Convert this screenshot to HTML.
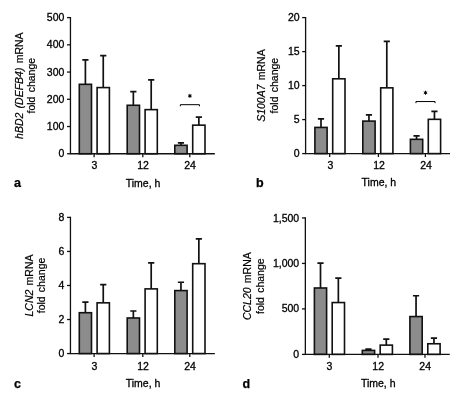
<!DOCTYPE html>
<html><head><meta charset="utf-8"><title>Figure</title>
<style>html,body{margin:0;padding:0;background:#fff}body{width:459px;height:400px;overflow:hidden;font-family:"Liberation Sans", sans-serif}svg text{stroke:#000;stroke-width:0.3px}svg text.L{stroke-width:0.25px}svg text.R{stroke-width:0.2px}</style>
</head><body>
<svg width="459" height="400" viewBox="0 0 459 400" style="display:block;will-change:transform;opacity:0.999" font-family='"Liberation Sans", sans-serif' fill="#000">
<rect width="459" height="400" fill="#fff"/>
<path d="M85.40 84.31V59.81M82.30 59.81H88.50" stroke="#111" stroke-width="1.7" fill="none"/>
<rect x="79.30" y="84.31" width="12.20" height="69.44" fill="#8c8c8c" stroke="#111" stroke-width="1.6"/>
<path d="M103.25 87.58V55.72M100.15 55.72H106.35" stroke="#111" stroke-width="1.7" fill="none"/>
<rect x="97.10" y="87.58" width="12.30" height="66.17" fill="#fff" stroke="#111" stroke-width="1.6"/>
<path d="M133.35 105.28V91.67M130.25 91.67H136.45" stroke="#111" stroke-width="1.7" fill="none"/>
<rect x="127.20" y="105.28" width="12.30" height="48.47" fill="#8c8c8c" stroke="#111" stroke-width="1.6"/>
<path d="M151.20 109.64V79.96M148.10 79.96H154.30" stroke="#111" stroke-width="1.7" fill="none"/>
<rect x="145.10" y="109.64" width="12.20" height="44.11" fill="#fff" stroke="#111" stroke-width="1.6"/>
<path d="M180.95 145.31V142.86M177.85 142.86H184.05" stroke="#111" stroke-width="1.7" fill="none"/>
<rect x="174.80" y="145.31" width="12.30" height="8.44" fill="#8c8c8c" stroke="#111" stroke-width="1.6"/>
<path d="M198.85 125.16V117.13M195.75 117.13H201.95" stroke="#111" stroke-width="1.7" fill="none"/>
<rect x="192.70" y="125.16" width="12.30" height="28.59" fill="#fff" stroke="#111" stroke-width="1.6"/>
<path d="M70.45 17.00V153.75H214.85" stroke="#111" stroke-width="1.3" fill="none"/>
<path d="M67.05 153.75H70.45" stroke="#111" stroke-width="1.3"/>
<text x="64.40" y="157.30" font-size="10.5" text-anchor="end">0</text>
<path d="M67.05 126.52H70.45" stroke="#111" stroke-width="1.3"/>
<text x="64.40" y="130.07" font-size="10.5" text-anchor="end">100</text>
<path d="M67.05 99.29H70.45" stroke="#111" stroke-width="1.3"/>
<text x="64.40" y="102.84" font-size="10.5" text-anchor="end">200</text>
<path d="M67.05 72.06H70.45" stroke="#111" stroke-width="1.3"/>
<text x="64.40" y="75.61" font-size="10.5" text-anchor="end">300</text>
<path d="M67.05 44.83H70.45" stroke="#111" stroke-width="1.3"/>
<text x="64.40" y="48.38" font-size="10.5" text-anchor="end">400</text>
<path d="M67.05 17.60H70.45" stroke="#111" stroke-width="1.3"/>
<text x="64.40" y="21.15" font-size="10.5" text-anchor="end">500</text>
<path d="M94.10 153.75V157.15" stroke="#111" stroke-width="1.3"/>
<text x="94.30" y="169.30" font-size="10.5" text-anchor="middle">3</text>
<path d="M142.80 153.75V157.15" stroke="#111" stroke-width="1.3"/>
<text x="143.00" y="169.30" font-size="10.5" text-anchor="middle">12</text>
<path d="M189.80 153.75V157.15" stroke="#111" stroke-width="1.3"/>
<text x="190.00" y="169.30" font-size="10.5" text-anchor="middle">24</text>
<text x="143.00" y="186.50" font-size="10.5" text-anchor="middle">Time, h</text>
<text transform="translate(22.50 85.67) rotate(-90)" class="R" word-spacing="1.3" font-size="10.5" text-anchor="middle"><tspan font-style="italic">hBD2 (DEFB4)</tspan> mRNA</text>
<text transform="translate(35.20 85.67) rotate(-90)" class="R" word-spacing="1.3" font-size="10.5" text-anchor="middle">fold change</text>
<text class="L" x="13.90" y="187.00" font-size="12.5" font-weight="bold">a</text>
<path d="M180.35 106.28V104.68H199.45V106.28" stroke="#000" stroke-width="1.0" fill="none"/>
<path d="M189.90 93.88L189.90 97.88M191.63 94.88L188.17 96.88M191.63 96.88L188.17 94.88" stroke="#000" stroke-width="1.0" fill="none"/>
<circle cx="189.90" cy="95.88" r="1.05" fill="#000"/>
<path d="M321.00 127.42V118.92M317.90 118.92H324.10" stroke="#111" stroke-width="1.7" fill="none"/>
<rect x="314.90" y="127.42" width="12.20" height="26.18" fill="#8c8c8c" stroke="#111" stroke-width="1.6"/>
<path d="M338.85 78.80V45.82M335.75 45.82H341.95" stroke="#111" stroke-width="1.7" fill="none"/>
<rect x="332.70" y="78.80" width="12.30" height="74.80" fill="#fff" stroke="#111" stroke-width="1.6"/>
<path d="M368.95 121.10V114.84M365.85 114.84H372.05" stroke="#111" stroke-width="1.7" fill="none"/>
<rect x="362.80" y="121.10" width="12.30" height="32.50" fill="#8c8c8c" stroke="#111" stroke-width="1.6"/>
<path d="M386.80 87.84V41.40M383.70 41.40H389.90" stroke="#111" stroke-width="1.7" fill="none"/>
<rect x="380.70" y="87.84" width="12.20" height="65.76" fill="#fff" stroke="#111" stroke-width="1.6"/>
<path d="M416.55 139.32V135.78M413.45 135.78H419.65" stroke="#111" stroke-width="1.7" fill="none"/>
<rect x="410.40" y="139.32" width="12.30" height="14.28" fill="#8c8c8c" stroke="#111" stroke-width="1.6"/>
<path d="M434.45 119.33V111.30M431.35 111.30H437.55" stroke="#111" stroke-width="1.7" fill="none"/>
<rect x="428.30" y="119.33" width="12.30" height="34.27" fill="#fff" stroke="#111" stroke-width="1.6"/>
<path d="M305.60 17.00V153.60H450.00" stroke="#111" stroke-width="1.3" fill="none"/>
<path d="M302.20 153.60H305.60" stroke="#111" stroke-width="1.3"/>
<text x="299.60" y="157.15" font-size="10.5" text-anchor="end">0</text>
<path d="M302.20 119.60H305.60" stroke="#111" stroke-width="1.3"/>
<text x="299.60" y="123.15" font-size="10.5" text-anchor="end">5</text>
<path d="M302.20 85.60H305.60" stroke="#111" stroke-width="1.3"/>
<text x="299.60" y="89.15" font-size="10.5" text-anchor="end">10</text>
<path d="M302.20 51.60H305.60" stroke="#111" stroke-width="1.3"/>
<text x="299.60" y="55.15" font-size="10.5" text-anchor="end">15</text>
<path d="M302.20 17.60H305.60" stroke="#111" stroke-width="1.3"/>
<text x="299.60" y="21.15" font-size="10.5" text-anchor="end">20</text>
<path d="M329.70 153.60V157.00" stroke="#111" stroke-width="1.3"/>
<text x="330.40" y="169.20" font-size="10.5" text-anchor="middle">3</text>
<path d="M378.40 153.60V157.00" stroke="#111" stroke-width="1.3"/>
<text x="379.10" y="169.20" font-size="10.5" text-anchor="middle">12</text>
<path d="M425.40 153.60V157.00" stroke="#111" stroke-width="1.3"/>
<text x="426.10" y="169.20" font-size="10.5" text-anchor="middle">24</text>
<text x="378.90" y="186.30" font-size="10.5" text-anchor="middle">Time, h</text>
<text transform="translate(265.00 85.60) rotate(-90)" class="R" word-spacing="1.3" font-size="10.5" text-anchor="middle"><tspan font-style="italic">S100A7</tspan> mRNA</text>
<text transform="translate(277.50 85.60) rotate(-90)" class="R" word-spacing="1.3" font-size="10.5" text-anchor="middle">fold change</text>
<text class="L" x="256.00" y="187.00" font-size="12.5" font-weight="bold">b</text>
<path d="M415.95 103.15V101.55H435.05V103.15" stroke="#000" stroke-width="1.0" fill="none"/>
<path d="M425.50 90.75L425.50 94.75M427.23 91.75L423.77 93.75M427.23 93.75L423.77 91.75" stroke="#000" stroke-width="1.0" fill="none"/>
<circle cx="425.50" cy="92.75" r="1.05" fill="#000"/>
<path d="M85.40 312.71V302.15M82.30 302.15H88.50" stroke="#111" stroke-width="1.7" fill="none"/>
<rect x="79.30" y="312.71" width="12.20" height="40.84" fill="#8c8c8c" stroke="#111" stroke-width="1.6"/>
<path d="M103.25 302.83V284.62M100.15 284.62H106.35" stroke="#111" stroke-width="1.7" fill="none"/>
<rect x="97.10" y="302.83" width="12.30" height="50.72" fill="#fff" stroke="#111" stroke-width="1.6"/>
<path d="M133.35 317.98V311.00M130.25 311.00H136.45" stroke="#111" stroke-width="1.7" fill="none"/>
<rect x="127.20" y="317.98" width="12.30" height="35.57" fill="#8c8c8c" stroke="#111" stroke-width="1.6"/>
<path d="M151.20 288.88V262.84M148.10 262.84H154.30" stroke="#111" stroke-width="1.7" fill="none"/>
<rect x="145.10" y="288.88" width="12.20" height="64.67" fill="#fff" stroke="#111" stroke-width="1.6"/>
<path d="M180.95 290.58V282.24M177.85 282.24H184.05" stroke="#111" stroke-width="1.7" fill="none"/>
<rect x="174.80" y="290.58" width="12.30" height="62.97" fill="#8c8c8c" stroke="#111" stroke-width="1.6"/>
<path d="M198.85 263.69V238.84M195.75 238.84H201.95" stroke="#111" stroke-width="1.7" fill="none"/>
<rect x="192.70" y="263.69" width="12.30" height="89.86" fill="#fff" stroke="#111" stroke-width="1.6"/>
<path d="M70.45 216.80V353.55H214.85" stroke="#111" stroke-width="1.3" fill="none"/>
<path d="M67.05 353.55H70.45" stroke="#111" stroke-width="1.3"/>
<text x="64.40" y="357.10" font-size="10.5" text-anchor="end">0</text>
<path d="M67.05 319.51H70.45" stroke="#111" stroke-width="1.3"/>
<text x="64.40" y="323.06" font-size="10.5" text-anchor="end">2</text>
<path d="M67.05 285.48H70.45" stroke="#111" stroke-width="1.3"/>
<text x="64.40" y="289.03" font-size="10.5" text-anchor="end">4</text>
<path d="M67.05 251.44H70.45" stroke="#111" stroke-width="1.3"/>
<text x="64.40" y="254.99" font-size="10.5" text-anchor="end">6</text>
<path d="M67.05 217.40H70.45" stroke="#111" stroke-width="1.3"/>
<text x="64.40" y="220.95" font-size="10.5" text-anchor="end">8</text>
<path d="M94.10 353.55V356.95" stroke="#111" stroke-width="1.3"/>
<text x="94.30" y="369.60" font-size="10.5" text-anchor="middle">3</text>
<path d="M142.80 353.55V356.95" stroke="#111" stroke-width="1.3"/>
<text x="143.00" y="369.60" font-size="10.5" text-anchor="middle">12</text>
<path d="M189.80 353.55V356.95" stroke="#111" stroke-width="1.3"/>
<text x="190.00" y="369.60" font-size="10.5" text-anchor="middle">24</text>
<text x="143.00" y="386.70" font-size="10.5" text-anchor="middle">Time, h</text>
<text transform="translate(33.00 285.48) rotate(-90)" class="R" word-spacing="1.3" font-size="10.5" text-anchor="middle"><tspan font-style="italic">LCN2</tspan> mRNA</text>
<text transform="translate(44.70 285.48) rotate(-90)" class="R" word-spacing="1.3" font-size="10.5" text-anchor="middle">fold change</text>
<text class="L" x="13.90" y="387.70" font-size="12.5" font-weight="bold">c</text>
<path d="M320.50 287.99V263.16M317.40 263.16H323.60" stroke="#111" stroke-width="1.7" fill="none"/>
<rect x="314.40" y="287.99" width="12.20" height="66.41" fill="#8c8c8c" stroke="#111" stroke-width="1.6"/>
<path d="M338.35 302.55V278.17M335.25 278.17H341.45" stroke="#111" stroke-width="1.7" fill="none"/>
<rect x="332.20" y="302.55" width="12.30" height="51.85" fill="#fff" stroke="#111" stroke-width="1.6"/>
<path d="M368.45 350.40V349.03M365.35 349.03H371.55" stroke="#111" stroke-width="1.7" fill="none"/>
<rect x="362.30" y="350.40" width="12.30" height="4.00" fill="#8c8c8c" stroke="#111" stroke-width="1.6"/>
<path d="M386.30 345.12V339.12M383.20 339.12H389.40" stroke="#111" stroke-width="1.7" fill="none"/>
<rect x="380.20" y="345.12" width="12.20" height="9.28" fill="#fff" stroke="#111" stroke-width="1.6"/>
<path d="M416.05 316.56V295.73M412.95 295.73H419.15" stroke="#111" stroke-width="1.7" fill="none"/>
<rect x="409.90" y="316.56" width="12.30" height="37.84" fill="#8c8c8c" stroke="#111" stroke-width="1.6"/>
<path d="M433.95 343.76V338.12M430.85 338.12H437.05" stroke="#111" stroke-width="1.7" fill="none"/>
<rect x="427.80" y="343.76" width="12.30" height="10.64" fill="#fff" stroke="#111" stroke-width="1.6"/>
<path d="M305.35 217.35V354.40H449.75" stroke="#111" stroke-width="1.3" fill="none"/>
<path d="M301.95 354.40H305.35" stroke="#111" stroke-width="1.3"/>
<text x="299.20" y="357.95" font-size="10.5" text-anchor="end">0</text>
<path d="M301.95 308.92H305.35" stroke="#111" stroke-width="1.3"/>
<text x="299.20" y="312.47" font-size="10.5" text-anchor="end">500</text>
<path d="M301.95 263.43H305.35" stroke="#111" stroke-width="1.3"/>
<text x="299.20" y="266.98" font-size="10.5" text-anchor="end">1,000</text>
<path d="M301.95 217.95H305.35" stroke="#111" stroke-width="1.3"/>
<text x="299.20" y="221.50" font-size="10.5" text-anchor="end">1,500</text>
<path d="M329.30 354.40V357.80" stroke="#111" stroke-width="1.3"/>
<text x="329.50" y="370.15" font-size="10.5" text-anchor="middle">3</text>
<path d="M378.00 354.40V357.80" stroke="#111" stroke-width="1.3"/>
<text x="378.20" y="370.15" font-size="10.5" text-anchor="middle">12</text>
<path d="M425.00 354.40V357.80" stroke="#111" stroke-width="1.3"/>
<text x="425.20" y="370.15" font-size="10.5" text-anchor="middle">24</text>
<text x="378.20" y="387.05" font-size="10.5" text-anchor="middle">Time, h</text>
<text transform="translate(251.00 286.17) rotate(-90)" class="R" word-spacing="1.3" font-size="10.5" text-anchor="middle"><tspan font-style="italic">CCL20</tspan> mRNA</text>
<text transform="translate(263.70 286.17) rotate(-90)" class="R" word-spacing="1.3" font-size="10.5" text-anchor="middle">fold change</text>
<text class="L" x="242.50" y="387.70" font-size="12.5" font-weight="bold">d</text>
</svg>
</body></html>
